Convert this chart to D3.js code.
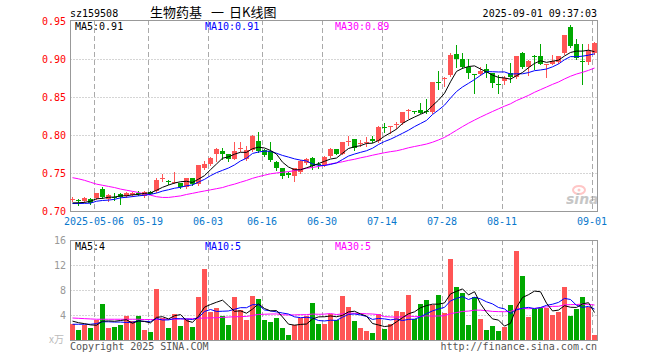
<!DOCTYPE html>
<html>
<head>
<meta charset="utf-8">
<script src="https://cdn.jsdelivr.net/npm/d3@7"></script>
<style>
  body { margin: 0; background: #fff; }
  svg { display: block; font-family: 'DejaVu Sans Mono', 'Liberation Mono', monospace; font-size: 10px; }
</style>
</head>
<body>
<div id="chart"></div>
<script>
// trading days shown (2025)
const dates = [
  '04-25', '04-28', '04-29', '04-30',
  '05-06', '05-07', '05-08', '05-09', '05-12', '05-13', '05-14', '05-15', '05-16',
  '05-19', '05-20', '05-21', '05-22', '05-23', '05-26', '05-27', '05-28', '05-29', '05-30',
  '06-03', '06-04', '06-05', '06-06', '06-09', '06-10', '06-11', '06-12', '06-13',
  '06-16', '06-17', '06-18', '06-19', '06-20', '06-23', '06-24', '06-25', '06-26', '06-27',
  '06-30', '07-01', '07-02', '07-03', '07-04', '07-07', '07-08', '07-09', '07-10', '07-11',
  '07-14', '07-15', '07-16', '07-17', '07-18', '07-21', '07-22', '07-23', '07-24', '07-25',
  '07-28', '07-29', '07-30', '07-31', '08-01', '08-04', '08-05', '08-06', '08-07', '08-08',
  '08-11', '08-12', '08-13', '08-14', '08-15', '08-18', '08-19', '08-20', '08-21', '08-22',
  '08-25', '08-26', '08-27', '08-28', '08-29', '09-01'
];

const open = [
  0.7155, 0.7148, 0.7132, 0.7171, 0.7175, 0.7293, 0.7161, 0.7195, 0.7227, 0.7201,
  0.7215, 0.7248, 0.7205, 0.7258, 0.7271, 0.7442, 0.7395, 0.7375, 0.7376, 0.7324,
  0.7442, 0.736, 0.757, 0.762, 0.775, 0.780, 0.775, 0.7697, 0.7832, 0.7697,
  0.7807, 0.7925, 0.7807, 0.7797, 0.7653, 0.7566, 0.7508, 0.7464, 0.7521, 0.7632,
  0.771, 0.7625, 0.761, 0.7728, 0.782, 0.776, 0.793, 0.795, 0.789, 0.7905,
  0.795, 0.7925, 0.8116, 0.8115, 0.8145, 0.8158, 0.832, 0.832, 0.8333, 0.8327,
  0.831, 0.8708, 0.8748, 0.8793, 0.907, 0.9004, 0.890, 0.8803, 0.8807, 0.887,
  0.8816, 0.8672, 0.8718, 0.8816, 0.877, 0.909, 0.8903, 0.905, 0.9047, 0.8932,
  0.8947, 0.8968, 0.908, 0.943, 0.921, 0.8982, 0.897, 0.908
];
const high = [
  0.7185, 0.716, 0.7188, 0.718, 0.725, 0.7324, 0.7225, 0.7237, 0.7237, 0.7255,
  0.7262, 0.7275, 0.7265, 0.7265, 0.744, 0.7487, 0.7415, 0.7517, 0.738, 0.7445,
  0.7445, 0.7615, 0.7658, 0.7715, 0.783, 0.783, 0.776, 0.7908, 0.7908, 0.7868,
  0.8003, 0.8043, 0.782, 0.791, 0.766, 0.757, 0.752, 0.757, 0.768, 0.771,
  0.772, 0.7645, 0.773, 0.783, 0.7828, 0.792, 0.7988, 0.796, 0.794, 0.7985,
  0.799, 0.812, 0.816, 0.813, 0.8175, 0.831, 0.835, 0.8325, 0.843, 0.8478,
  0.8705, 0.8849, 0.8765, 0.909, 0.919, 0.909, 0.900, 0.881, 0.8905, 0.8945,
  0.882, 0.8795, 0.878, 0.895, 0.905, 0.910, 0.899, 0.9055, 0.921, 0.8945,
  0.906, 0.905, 0.9325, 0.945, 0.927, 0.921, 0.921, 0.923
];
const low = [
  0.714, 0.708, 0.7125, 0.7105, 0.716, 0.7175, 0.7135, 0.7149, 0.7105, 0.7195,
  0.720, 0.7215, 0.7185, 0.7225, 0.726, 0.7395, 0.7365, 0.737, 0.7305, 0.731,
  0.735, 0.735, 0.756, 0.761, 0.766, 0.7697, 0.767, 0.7685, 0.7795, 0.768,
  0.7795, 0.778, 0.773, 0.766, 0.7543, 0.7438, 0.7455, 0.740, 0.751, 0.762,
  0.756, 0.7575, 0.7595, 0.772, 0.7755, 0.775, 0.787, 0.781, 0.786, 0.7865,
  0.792, 0.792, 0.8045, 0.8035, 0.8105, 0.815, 0.8235, 0.8295, 0.8295, 0.830,
  0.830, 0.8618, 0.8655, 0.878, 0.8903, 0.889, 0.876, 0.856, 0.880, 0.877,
  0.864, 0.856, 0.868, 0.870, 0.876, 0.889, 0.8795, 0.888, 0.894, 0.877,
  0.894, 0.896, 0.907, 0.917, 0.901, 0.868, 0.894, 0.907
];
const close = [
  0.716, 0.7142, 0.7175, 0.7118, 0.7241, 0.7188, 0.7214, 0.719, 0.7197, 0.7245,
  0.725, 0.7242, 0.7258, 0.7232, 0.7412, 0.7447, 0.739, 0.739, 0.732, 0.7442,
  0.7368, 0.761, 0.762, 0.771, 0.7816, 0.775, 0.7697, 0.7797, 0.7837, 0.7807,
  0.7995, 0.7797, 0.7743, 0.7675, 0.7566, 0.7464, 0.7478, 0.7566, 0.7671, 0.7697,
  0.7596, 0.762, 0.7718, 0.782, 0.7763, 0.791, 0.7934, 0.7829, 0.7895, 0.791,
  0.7925, 0.8113, 0.811, 0.812, 0.8149, 0.8303, 0.834, 0.8303, 0.830, 0.8322,
  0.870, 0.8703, 0.8752, 0.9057, 0.9004, 0.8903, 0.882, 0.8797, 0.885, 0.8816,
  0.869, 0.8667, 0.8763, 0.877, 0.9043, 0.8903, 0.898, 0.9045, 0.8947, 0.8936,
  0.898, 0.9047, 0.932, 0.918, 0.9026, 0.8978, 0.911, 0.922
];
// volume, in 万 lots
const volume = [
  2.67, 1.76, 2.5, 1.97, 3.3, 5.92, 1.97, 2.24, 2.56, 3.9,
  3.1, 3.9, 1.76, 1.44, 8.32, 3.63, 2.08, 4.32, 2.4, 3.47,
  2.24, 7.04, 11.52, 4.53, 5.28, 3.9, 2.56, 7.04, 4.96, 3.36,
  7.2, 6.72, 3.36, 3.04, 3.63, 2.08, 0.96, 2.56, 3.63, 3.95,
  6.08, 2.67, 2.67, 4.27, 3.3, 7.2, 5.44, 3.2, 2.08, 1.6,
  1.28, 4.27, 1.92, 2.67, 4.8, 4.64, 7.36, 3.47, 5.92, 6.56,
  5.76, 7.36, 4.48, 13.12, 8.64, 7.68, 2.56, 7.04, 3.52, 1.76,
  2.4, 1.6, 2.24, 5.76, 14.4, 10.4, 3.84, 5.12, 5.23, 5.28,
  4.16, 4.53, 8.64, 4.0, 5.12, 7.04, 5.44, 0.8
];

// moving-average values before a full window is on screen
const ma5Head = [0.7113, 0.7115, 0.712, 0.7135];
const ma10Head = [0.7105, 0.7105, 0.7107, 0.711, 0.7135, 0.7145, 0.715, 0.716, 0.718];
const ma30Head = [
  0.7445, 0.743, 0.741, 0.7385, 0.736, 0.7345, 0.733, 0.7315, 0.7295, 0.728,
  0.7265, 0.725, 0.723, 0.7215, 0.7195, 0.7185, 0.7185, 0.7195, 0.7205, 0.7224,
  0.7239, 0.7255, 0.727, 0.7285, 0.730, 0.7315, 0.734, 0.736, 0.7385
];
const vma5Head = [3.1, 2.85, 2.7, 2.5];
const vma10Head = [2.6, 2.6, 2.6, 2.6, 2.7, 3.0, 3.0, 2.95, 2.95];
const vma30Head = [
  3.6, 3.55, 3.5, 3.45, 3.4, 3.4, 3.4, 3.4, 3.4, 3.4,
  3.4, 3.4, 3.35, 3.35, 3.35, 3.4, 3.4, 3.4, 3.45, 3.45,
  3.5, 3.55, 3.6, 3.62, 3.65, 3.7, 3.75, 3.8, 3.82
];

const tickDates = ['05-06', '05-19', '06-03', '06-16', '06-30', '07-14', '07-28', '08-11', '09-01'];
const tickLabels = ['2025-05-06', '05-19', '06-03', '06-16', '06-30', '07-14', '07-28', '08-11', '09-01'];
const priceTicks = [0.70, 0.75, 0.80, 0.85, 0.90, 0.95];
const priceGrid = [0.75, 0.80, 0.85, 0.90];
const volumeTicks = [4, 8, 12, 16];
const volumeGrid = [4, 8, 12];

const red = '#ff5555';
const green = '#00a800';
const gridColor = '#aaa';
const frameColor = '#999';

// plot areas
const left = 70, right = 597;
const priceTop = 20, priceBottom = 211;
const volTop = 240, volBottom = 340;

const ma = (vals, n, head) => vals.map((v, i) =>
  i < head.length ? head[i] : d3.mean(vals.slice(i - n + 1, i + 1)));

const ma5 = ma(close, 5, ma5Head);
const ma10 = ma(close, 10, ma10Head);
const ma30 = ma(close, 30, ma30Head);
const vma5 = ma(volume, 5, vma5Head);
const vma10 = ma(volume, 10, vma10Head);
const vma30 = ma(volume, 30, vma30Head);

const svg = d3.select('#chart').append('svg')
  .attr('width', 660)
  .attr('height', 360);

svg.append('rect').attr('width', 660).attr('height', 360).attr('fill', '#fff');

const x = d3.scaleBand().domain(dates).range([69, 597]).paddingInner(1 / 6).paddingOuter(1 / 12);
const y = d3.scaleLinear().domain([0.70, 0.95]).range([priceBottom + 0.5, priceTop + 1.5]);
const yv = d3.scaleLinear().domain([0, 16]).range([volBottom + 0.5, volTop + 0.5]);

const bx = d => Math.round(x(d));      // left edge of a bar
const cx = d => Math.round(x(d)) + 2.5; // centre of a bar

// horizontal dotted grid
svg.append('g')
  .attr('transform', `translate(${left + 0.5},0)`)
  .call(d3.axisLeft(y).tickValues(priceGrid).tickSize(-(right - left)).tickFormat('').offset(0))
  .call(g => g.select('.domain').remove())
  .call(g => g.selectAll('line').attr('stroke', gridColor).attr('stroke-dasharray', '1,2'));

svg.append('g')
  .attr('transform', `translate(${left + 0.5},0)`)
  .call(d3.axisLeft(yv).tickValues(volumeGrid).tickSize(-(right - left)).tickFormat('').offset(0))
  .call(g => g.select('.domain').remove())
  .call(g => g.selectAll('line').attr('stroke', gridColor).attr('stroke-dasharray', '1,2'));

// vertical dashed grid on both panels
const vgrid = svg.append('g').attr('stroke', gridColor).attr('stroke-dasharray', '5,3');
[[priceTop, priceBottom], [volTop, volBottom]].forEach(([t, b]) => {
  vgrid.selectAll(null).data(tickDates).enter()
    .append('line')
    .attr('x1', d => bx(d) + 0.5)
    .attr('x2', d => bx(d) + 0.5)
    .attr('y1', t)
    .attr('y2', b);
});

// frames
[[priceTop, priceBottom], [volTop, volBottom]].forEach(([t, b]) => {
  svg.append('rect')
    .attr('x', left + 0.5)
    .attr('y', t + 0.5)
    .attr('width', right - left)
    .attr('height', b - t)
    .attr('fill', 'none')
    .attr('stroke', frameColor);
});

// price axis labels
svg.append('g')
  .attr('transform', `translate(${left},0)`)
  .call(d3.axisLeft(y).tickValues(priceTicks).tickFormat(d3.format('.2f')).tickSize(0).tickPadding(4).offset(0))
  .call(g => g.select('.domain').remove())
  .call(g => g.selectAll('text')
    .attr('fill', '#f00')
    .attr('font-family', "'DejaVu Sans Mono', monospace")
    .attr('font-size', 10));

// volume axis labels
svg.append('g')
  .attr('transform', `translate(${left},0)`)
  .call(d3.axisLeft(yv).tickValues(volumeTicks).tickSize(0).tickPadding(4).offset(0))
  .call(g => g.select('.domain').remove())
  .call(g => g.selectAll('text')
    .attr('fill', '#999')
    .attr('font-family', "'DejaVu Sans Mono', monospace")
    .attr('font-size', 10));

svg.append('text')
  .attr('x', 49).attr('y', 343)
  .attr('fill', '#bbb')
  .attr('font-family', "'Noto Sans CJK SC', sans-serif")
  .attr('font-size', 10)
  .text('x万');

// date labels
svg.append('g')
  .attr('transform', `translate(-2,${priceBottom})`)
  .call(d3.axisBottom(x).tickValues(tickDates).tickFormat((d, i) => tickLabels[i]).tickSize(0).tickPadding(7))
  .call(g => g.select('.domain').remove())
  .call(g => g.selectAll('text')
    .attr('fill', '#0a78cc')
    .attr('font-family', "'DejaVu Sans Mono', monospace")
    .attr('font-size', 10));

// candles
const bars = dates.map((d, i) => ({ date: d, o: open[i], h: high[i], l: low[i], c: close[i], v: volume[i] }));
const color = d => d.c >= d.o ? red : green;

const candles = svg.append('g').attr('shape-rendering', 'crispEdges');
candles.selectAll('.wick').data(bars).enter()
  .append('line')
  .attr('class', 'wick')
  .attr('x1', d => cx(d.date))
  .attr('x2', d => cx(d.date))
  .attr('y1', d => Math.round(y(d.h)))
  .attr('y2', d => Math.round(y(d.l)) + 1)
  .attr('stroke', color);

candles.selectAll('.body').data(bars).enter()
  .append('rect')
  .attr('class', 'body')
  .attr('x', d => bx(d.date))
  .attr('y', d => Math.round(y(Math.max(d.o, d.c))))
  .attr('width', x.bandwidth())
  .attr('height', d => Math.max(1, Math.round(y(Math.min(d.o, d.c))) - Math.round(y(Math.max(d.o, d.c)))))
  .attr('fill', color);

// volume bars
svg.append('g').attr('shape-rendering', 'crispEdges')
  .selectAll('rect').data(bars).enter()
  .append('rect')
  .attr('x', d => bx(d.date))
  .attr('y', d => Math.round(yv(d.v)))
  .attr('width', x.bandwidth())
  .attr('height', d => volBottom - Math.round(yv(d.v)))
  .attr('fill', color);

// moving averages
const drawLine = (vals, scale, stroke) => {
  svg.append('path')
    .datum(vals)
    .attr('fill', 'none')
    .attr('stroke', stroke)
    .attr('stroke-width', 1)
    .attr('d', d3.line().x((d, i) => cx(dates[i])).y(d => scale(d)));
};
drawLine(ma30, y, '#f0f');
drawLine(ma10, y, '#00f');
drawLine(ma5, y, '#000');
drawLine(vma30, yv, '#f0f');
drawLine(vma10, yv, '#00f');
drawLine(vma5, yv, '#000');

// legends
const last = a => a[a.length - 1];
const legend = (yPos, items) => items.forEach(([lx, txt, fill]) => {
  svg.append('text').attr('x', lx).attr('y', yPos).attr('fill', fill).text(txt);
});
legend(29.5, [
  [75, 'MA5:' + last(ma5).toFixed(2), '#000'],
  [205, 'MA10:' + last(ma10).toFixed(2), '#00f'],
  [335, 'MA30:' + last(ma30).toFixed(2), '#f0f']
]);
legend(250, [
  [75, 'MA5:' + Math.floor(last(vma5)), '#000'],
  [205, 'MA10:' + Math.floor(last(vma10)), '#00f'],
  [335, 'MA30:' + Math.floor(last(vma30)), '#f0f']
]);

// header
svg.append('text').attr('x', 70).attr('y', 16.5).attr('fill', '#000').text('sz159508');
const title = svg.append('text')
  .attr('y', 17)
  .attr('fill', '#000')
  .attr('font-family', "'Noto Sans CJK SC', sans-serif")
  .attr('font-size', 13);
title.append('tspan').attr('x', 150).text('生物药基');
title.append('tspan').attr('x', 211).text('一');
title.append('tspan').attr('x', 229).text('日K线图');
svg.append('text').attr('x', 597).attr('y', 16.5).attr('text-anchor', 'end').attr('fill', '#000')
  .text('2025-09-01 09:37:03');

// footer
svg.append('text').attr('x', 70).attr('y', 349.5).attr('fill', '#555').text('Copyright 2025 SINA.COM');
svg.append('text').attr('x', 597).attr('y', 349.5).attr('text-anchor', 'end').attr('fill', '#555')
  .text('http://finance.sina.com.cn');

// sina watermark
const mark = svg.append('g').attr('opacity', 0.55);
mark.append('ellipse').attr('cx', 579).attr('cy', 190).attr('rx', 6).attr('ry', 4)
  .attr('fill', 'none').attr('stroke', '#f99').attr('stroke-width', 2);
mark.append('circle').attr('cx', 579).attr('cy', 190).attr('r', 1.5).attr('fill', '#f99');
mark.append('text')
  .attr('x', 566).attr('y', 204)
  .attr('fill', '#999')
  .attr('font-family', "'DejaVu Sans', sans-serif")
  .attr('font-size', 14)
  .attr('font-weight', 'bold')
  .attr('font-style', 'italic')
  .text('sina');
</script>
</body>
</html>
